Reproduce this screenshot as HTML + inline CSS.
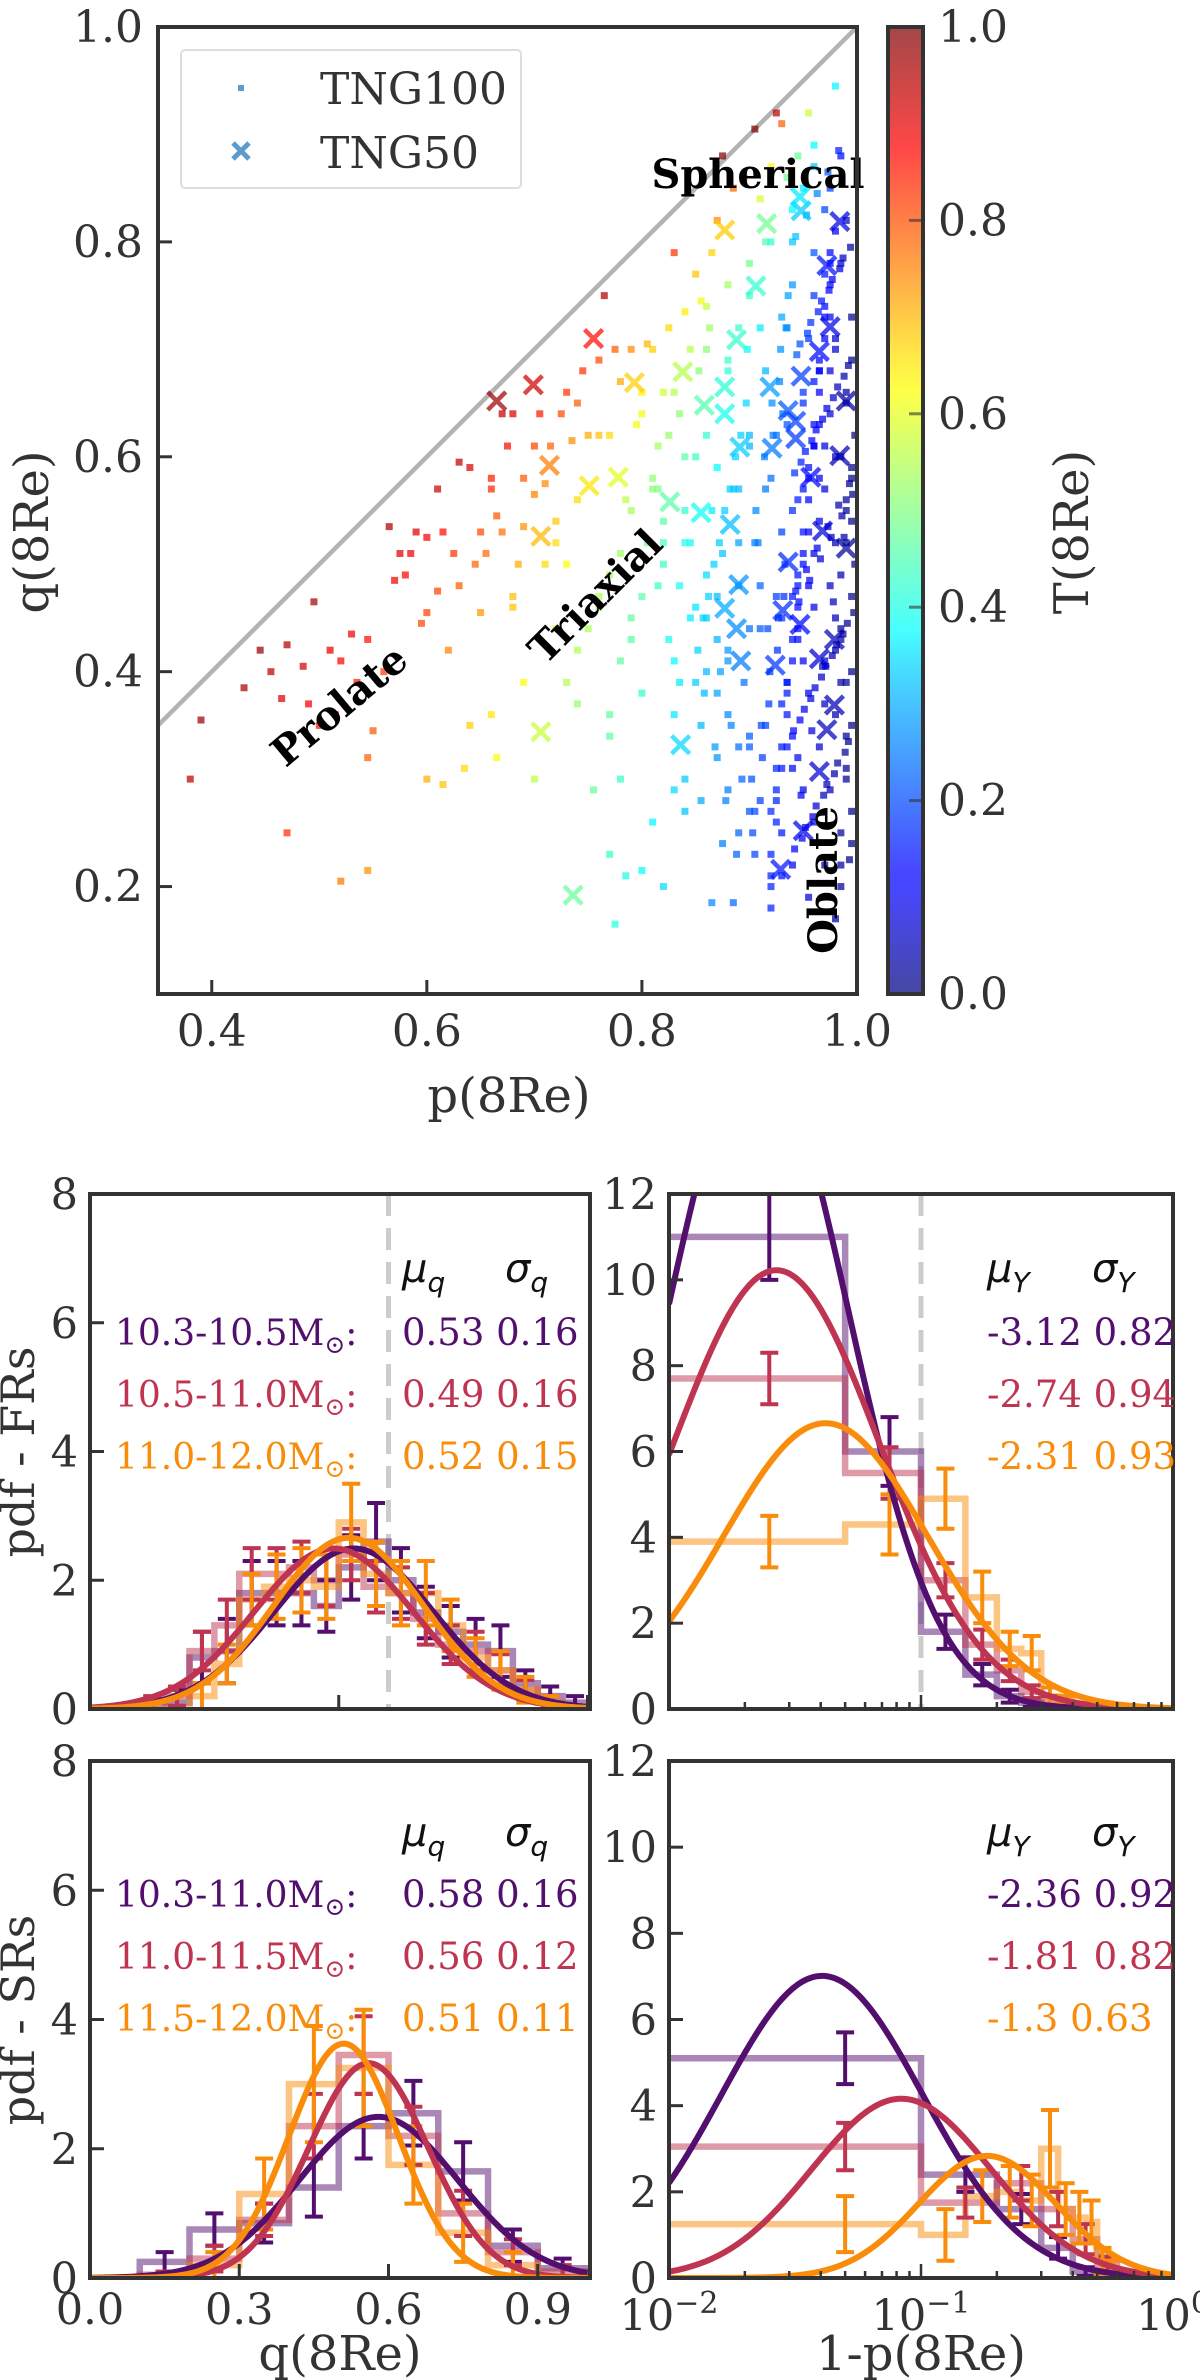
<!DOCTYPE html>
<html><head><meta charset="utf-8"><style>
html,body{margin:0;padding:0;background:#fff;}
svg{display:block;font-family:"DejaVu Serif","Liberation Serif",serif;}
</style></head><body>
<svg id="fig" width="1200" height="2380" viewBox="0 0 1200 2380" xmlns="http://www.w3.org/2000/svg">
<defs>
<clipPath id="cTop"><rect x="158" y="27" width="699" height="967"/></clipPath>
<clipPath id="cUL"><rect x="90" y="1194" width="500" height="515"/></clipPath>
<clipPath id="cUR"><rect x="669" y="1194" width="504" height="515"/></clipPath>
<clipPath id="cLL"><rect x="90" y="1761" width="500" height="517"/></clipPath>
<clipPath id="cLR"><rect x="669" y="1761" width="504" height="517"/></clipPath>
<linearGradient id="jetGrad" x1="0" y1="1" x2="0" y2="0">
<stop offset="0" stop-color="#000080"/><stop offset="0.11" stop-color="#0000ff"/><stop offset="0.125" stop-color="#0000ff"/>
<stop offset="0.34" stop-color="#00d4ff"/><stop offset="0.375" stop-color="#00ffff"/><stop offset="0.5" stop-color="#80ff80"/>
<stop offset="0.625" stop-color="#ffff00"/><stop offset="0.66" stop-color="#ffe000"/><stop offset="0.875" stop-color="#ff0000"/><stop offset="1" stop-color="#800000"/>
</linearGradient>
</defs>
<g id="top"></g>
<g id="bottom"></g>
</svg>
<script>
// ---------------- Top scatter data ----------------
const tng100P = [0.38,0.39,0.43,0.445,0.455,0.465,0.47,0.47,0.485,0.49,0.495,0.50,0.51,0.515,0.52,0.52,0.53,0.535,0.545,0.545,0.55,0.545,0.56,0.565,0.57,0.575,0.585,0.59,0.58,0.595,0.60,0.60,0.61,0.61,0.615,0.62,0.625,0.63,0.63,0.635,0.64,0.645,0.65,0.655,0.66,0.665,0.67,0.67,0.675,0.68,0.68,0.685,0.69,0.70,0.70,0.705,0.71,0.715,0.72,0.725,0.73,0.73,0.735,0.74,0.745,0.75,0.76,0.765,0.77,0.775,0.78,0.785,0.79,0.795,0.80,0.805,0.81,0.815,0.82,0.825,0.83,0.835,0.84,0.845,0.85,0.855,0.86,0.865,0.87,0.875,0.88,0.885,0.89,0.895,0.90,0.905,0.91,0.915,0.92,0.925,0.93,0.935,0.94,0.945,0.95,0.955,0.96,0.97,0.98,0.985,
0.60,0.615,0.64,0.66,0.665,0.69,0.70,0.72,0.73,0.74,0.755,0.77,0.77,0.775,0.78,0.785,0.79,0.80,0.80,0.81,0.815,0.82,0.825,0.83,0.835,0.84,0.84,0.845,0.85,0.855,0.855,0.86,0.865,0.865,0.87,0.87,0.875,0.875,0.88,0.88,0.885,0.885,0.89,0.89,0.895,0.90,0.90,0.905,0.905,0.91,0.91,0.915,0.915,0.92,0.92,0.925,0.925,0.93,0.93,0.93,0.935,0.935,0.94,0.94,0.94,0.945,0.945,0.95,0.95,0.95,0.955,0.955,0.955,0.96,0.96,0.96,0.96,0.965,0.965,0.965,0.97,0.97,0.97,0.97,0.975,0.975,0.975,0.975,0.98,0.98,0.98,0.98,0.985,0.985,0.985,0.985,0.99,0.99,0.99,0.99,0.99,0.995,0.995,0.995,0.995,0.995,0.998,0.998,
0.92,0.925,0.93,0.935,0.94,0.945,0.95,0.955,0.96,0.965,0.97,0.975,0.98,0.985,0.99,0.995,0.92,0.925,0.93,0.935,0.94,0.945,0.95,0.955,0.96,0.965,0.97,0.975,0.98,0.985,0.99,0.995,0.92,0.93,0.94,0.95,0.96,0.97,0.98,0.99,0.925,0.935,0.945,0.955,0.965,0.975,0.985,0.995,0.92,0.93,0.94,0.95,0.96,0.97,0.98,0.99,0.925,0.935,0.945,0.955,0.965,0.975,0.985,0.995,0.93,0.94,0.95,0.96,0.97,0.98,0.99,0.935,0.945,0.955,0.965,0.975,0.985,0.995,
0.88,0.89,0.90,0.91,0.86,0.87,0.88,0.89,0.90,0.85,0.86,0.87,0.89,0.90,0.91,0.84,0.86,0.88,0.90,0.82,0.83,0.85,0.87,0.80,0.81,0.83,0.84,0.79,0.76,0.78,0.75,0.77,0.74,0.72,0.71,0.69,0.68,0.66,0.65,0.76,0.80,0.82,0.86,0.88,0.90,0.92,0.94,0.96,
0.942,0.952,0.962,0.972,0.982,0.992,0.947,0.957,0.967,0.977,0.987,0.997,0.943,0.953,0.963,0.973,0.983,0.993,0.948,0.958,0.968,0.978,0.988,0.944,0.954,0.964,0.974,0.984,0.994,0.949,0.959,0.969,0.979,0.989,0.941,0.951,0.961,0.971,0.981,0.991,0.946,0.956,0.966,0.976,0.986,0.996,0.942,0.952,0.962,0.972,0.982,0.992,0.947,0.957,0.967,0.977,0.987,0.943,0.953,0.963,0.973,0.983,0.993,0.948,0.958,0.968,0.978,0.988,
0.905,0.912,0.918,0.926,0.932,0.908,0.915,0.922,0.928,0.934,0.902,0.911,0.919,0.927,0.933,0.906,0.914,0.921,0.929,0.936,0.903,0.917,0.931,
0.852,0.862,0.872,0.882,0.892,0.857,0.867,0.877,0.887,0.897,0.853,0.863,0.873,0.883,0.893,0.858,0.868,0.878,0.888,0.898,
0.805,0.815,0.825,0.835,0.845,0.81,0.82,0.83,0.84,0.79,0.77,0.78,0.76,0.74];
const tng100Q = [0.30,0.355,0.385,0.42,0.40,0.375,0.25,0.425,0.405,0.37,0.465,0.35,0.42,0.36,0.41,0.205,0.435,0.39,0.215,0.43,0.345,0.32,0.40,0.535,0.485,0.51,0.51,0.53,0.49,0.445,0.525,0.455,0.475,0.57,0.53,0.42,0.51,0.48,0.595,0.31,0.59,0.50,0.455,0.51,0.58,0.545,0.53,0.64,0.61,0.47,0.64,0.50,0.535,0.565,0.61,0.64,0.575,0.61,0.54,0.64,0.50,0.66,0.615,0.65,0.68,0.62,0.69,0.75,0.62,0.70,0.67,0.56,0.70,0.63,0.64,0.705,0.70,0.61,0.66,0.72,0.79,0.64,0.735,0.70,0.77,0.745,0.70,0.79,0.82,0.88,0.76,0.85,0.72,0.86,0.78,0.905,0.84,0.80,0.87,0.92,0.91,0.86,0.80,0.88,0.85,0.92,0.87,0.83,0.945,0.88,
0.30,0.295,0.35,0.36,0.32,0.39,0.30,0.44,0.39,0.42,0.29,0.23,0.34,0.165,0.30,0.21,0.45,0.38,0.215,0.26,0.48,0.20,0.43,0.36,0.39,0.30,0.27,0.52,0.46,0.28,0.35,0.40,0.55,0.185,0.32,0.43,0.24,0.51,0.36,0.29,0.185,0.57,0.25,0.48,0.39,0.33,0.61,0.23,0.52,0.44,0.28,0.68,0.35,0.20,0.58,0.47,0.31,0.25,0.53,0.73,0.39,0.63,0.22,0.34,0.76,0.44,0.56,0.29,0.66,0.50,0.19,0.38,0.71,0.26,0.46,0.61,0.79,0.33,0.54,0.68,0.22,0.41,0.57,0.74,0.29,0.48,0.64,0.85,0.17,0.36,0.52,0.70,0.25,0.44,0.60,0.78,0.31,0.39,0.55,0.66,0.82,0.27,0.47,0.58,0.73,0.35,0.50,0.62,
0.21,0.26,0.31,0.36,0.41,0.46,0.51,0.56,0.61,0.66,0.71,0.76,0.81,0.20,0.30,0.40,0.23,0.28,0.33,0.38,0.43,0.48,0.53,0.58,0.63,0.68,0.73,0.78,0.60,0.43,0.34,0.24,0.27,0.37,0.47,0.57,0.67,0.77,0.45,0.65,0.29,0.39,0.49,0.59,0.69,0.79,0.39,0.54,0.18,0.45,0.55,0.65,0.75,0.37,0.42,0.52,0.62,0.72,0.32,0.48,0.58,0.68,0.49,0.59,0.21,0.31,0.41,0.51,0.61,0.71,0.56,0.33,0.43,0.53,0.63,0.73,0.22,0.69,
0.42,0.52,0.62,0.72,0.49,0.59,0.69,0.33,0.44,0.39,0.62,0.47,0.57,0.27,0.48,0.55,0.45,0.41,0.34,0.50,0.29,0.60,0.38,0.47,0.57,0.41,0.52,0.55,0.47,0.51,0.44,0.36,0.56,0.52,0.50,0.58,0.46,0.57,0.53,0.62,0.66,0.52,0.74,0.68,0.75,0.80,0.83,0.89,
0.235,0.255,0.275,0.295,0.315,0.335,0.355,0.375,0.395,0.415,0.435,0.455,0.475,0.495,0.515,0.535,0.555,0.575,0.595,0.615,0.635,0.655,0.675,0.695,0.715,0.735,0.755,0.775,0.795,0.245,0.265,0.285,0.305,0.325,0.345,0.365,0.385,0.405,0.425,0.445,0.465,0.485,0.505,0.525,0.545,0.565,0.585,0.605,0.625,0.645,0.665,0.685,0.705,0.725,0.745,0.765,0.785,0.805,0.825,0.845,0.865,0.885,0.225,0.285,0.345,0.405,0.465,0.525,
0.27,0.32,0.37,0.42,0.47,0.52,0.57,0.62,0.67,0.72,0.30,0.35,0.40,0.45,0.50,0.55,0.60,0.65,0.70,0.75,0.25,0.44,0.64,
0.42,0.47,0.52,0.57,0.62,0.45,0.50,0.55,0.60,0.65,0.68,0.72,0.40,0.35,0.30,0.38,0.33,0.28,0.23,0.70,
0.52,0.57,0.62,0.48,0.45,0.58,0.54,0.66,0.60,0.43,0.49,0.41,0.46,0.37];
const tng50P = [0.665,0.699,0.755,0.714,0.706,0.751,0.778,0.793,0.838,0.877,0.916,0.948,0.947,0.984,0.972,0.906,0.888,0.877,0.858,0.877,0.919,0.948,0.936,0.965,0.975,0.990,0.891,0.921,0.943,0.957,0.984,0.826,0.855,0.882,0.968,0.990,0.936,0.890,0.877,0.888,0.931,0.947,0.892,0.924,0.965,0.979,0.979,0.972,0.965,0.950,0.929,0.836,0.706,0.736,0.943];
const tng50Q = [0.652,0.667,0.710,0.592,0.526,0.573,0.581,0.669,0.679,0.811,0.817,0.829,0.842,0.819,0.778,0.759,0.709,0.665,0.648,0.640,0.665,0.675,0.643,0.698,0.721,0.652,0.609,0.608,0.617,0.581,0.601,0.558,0.548,0.537,0.531,0.515,0.502,0.481,0.459,0.440,0.457,0.444,0.410,0.406,0.412,0.430,0.369,0.346,0.307,0.252,0.216,0.332,0.344,0.192,0.633];
const cbTicks = [0.0,0.2,0.4,0.6,0.8,1.0];
const pTicks = [0.4,0.6,0.8,1.0];
const qTicks = [0.2,0.4,0.6,0.8,1.0];

// ---------------- Bottom panel data ----------------
const massLabelsFR = ["10.3-10.5M","10.5-11.0M","11.0-12.0M"];
const massLabelsSR = ["10.3-11.0M","11.0-11.5M","11.5-12.0M"];
const muQFR = [0.53,0.49,0.52], sigQFR = [0.16,0.16,0.15];
const muQSR = [0.58,0.56,0.51], sigQSR = [0.16,0.12,0.11];
const muYFR = [-3.12,-2.74,-2.31], sigYFR = [0.82,0.94,0.93];
const muYSR = [-2.36,-1.81,-1.3], sigYSR = [0.92,0.82,0.63];
const colors = ["#530f6d","#bf3551","#f98c0a"];

const qEdgesFR = [0.1,0.15,0.2,0.25,0.3,0.35,0.4,0.45,0.5,0.55,0.6,0.65,0.7,0.75,0.8,0.85,0.9,0.95,1.0];
const qHistFR0 = [0.0,0.1,0.8,0.9,1.8,1.8,1.8,1.6,2.2,2.6,2.0,1.5,1.2,1.0,0.9,0.4,0.2,0.1];
const qErrFR0  = [0.0,0.2,0.4,0.5,0.5,0.5,0.5,0.4,0.5,0.6,0.5,0.4,0.4,0.4,0.4,0.2,0.15,0.1];
const qHistFR1 = [0.1,0.2,0.9,1.3,2.1,2.1,2.2,2.0,2.4,1.9,1.8,1.4,1.0,0.9,0.6,0.3,0.1,0.0];
const qErrFR1  = [0.1,0.15,0.3,0.4,0.4,0.4,0.4,0.4,0.4,0.4,0.4,0.4,0.3,0.3,0.25,0.15,0.1,0.0];
const qHistFR2 = [0.0,0.0,0.2,0.7,1.7,1.9,2.0,1.9,2.9,2.1,1.8,1.8,1.3,0.8,0.6,0.3,0.1,0.0];
const qErrFR2  = [0.0,0.0,0.2,0.3,0.4,0.5,0.5,0.5,0.6,0.5,0.5,0.5,0.4,0.3,0.3,0.2,0.1,0.0];

const yEdgesFR = [0,0.05,0.1,0.15,0.2,0.25,0.3,0.35,0.4,0.45,0.5];
const yHistFR0 = [11.0,6.0,1.8,0.8,0.3,0.15,0.05,0.02,0.0,0.0];
const yErrFR0  = [1.0,0.8,0.4,0.25,0.15,0.1,0.0,0.0,0.0,0.0];
const yHistFR1 = [7.7,5.5,3.0,1.5,0.9,0.4,0.2,0.1,0.05,0.0];
const yErrFR1  = [0.6,0.6,0.4,0.35,0.25,0.15,0.1,0.0,0.0,0.0];
const yHistFR2 = [3.9,4.3,4.9,2.6,1.4,1.3,0.3,0.2,0.1,0.05];
const yErrFR2  = [0.6,0.7,0.7,0.6,0.4,0.4,0.2,0.1,0.0,0.0];

const qEdgesSR = [0.1,0.2,0.3,0.4,0.5,0.6,0.7,0.8,0.9,1.0];
const qHistSR0 = [0.25,0.75,0.85,1.4,2.35,2.55,1.65,0.5,0.15];
const qErrSR0  = [0.15,0.25,0.3,0.45,0.5,0.5,0.45,0.25,0.15];
const qHistSR1 = [0.05,0.3,0.9,2.35,3.45,2.2,1.0,0.4,0.1];
const qErrSR1  = [0.05,0.2,0.25,0.5,0.6,0.45,0.35,0.2,0.1];
const qHistSR2 = [0.0,0.2,1.3,3.0,3.25,1.75,0.7,0.2,0.0];
const qErrSR2  = [0.0,0.2,0.55,0.9,0.9,0.6,0.45,0.2,0.0];

const yEdgesSR0 = [0,0.1,0.2,0.3,0.4,0.5];
const yHistSR0 = [5.1,2.4,1.6,0.7,0.15];
const yErrSR0  = [0.6,0.4,0.35,0.25,0.1];
const yEdgesSR1 = [0,0.1,0.2,0.3,0.4,0.5,0.6];
const yHistSR1 = [3.05,1.75,2.2,1.6,0.9,0.3];
const yErrSR1  = [0.55,0.35,0.4,0.4,0.35,0.2];
const yEdgesSR2 = [0,0.1,0.15,0.2,0.25,0.3,0.35,0.4,0.45,0.5,0.55,0.6,0.7];
const yHistSR2 = [1.25,1.0,1.9,2.0,1.8,3.0,1.6,1.4,1.3,0.4,0.2,0.05];
const yErrSR2  = [0.65,0.6,0.6,0.6,0.6,0.9,0.6,0.6,0.5,0.3,0.2,0.0];

const yTicksQ = [0,2,4,6,8];
const yTicksY = [0,2,4,6,8,10,12];
const xTicksQ = [0.0,0.3,0.6,0.9];

// ---------------- helpers ----------------
const NS = "http://www.w3.org/2000/svg";
function mk(tag, attrs, parent) {
  const e = document.createElementNS(NS, tag);
  for (const k in attrs) e.setAttribute(k, attrs[k]);
  parent.appendChild(e);
  return e;
}
function clamp(v){return Math.max(0,Math.min(1,v));}
function jet(t){
  const r=clamp(1.5-Math.abs(4*t-3)), g=clamp(1.5-Math.abs(4*t-2)), b=clamp(1.5-Math.abs(4*t-1));
  return "rgb("+Math.round(r*255)+","+Math.round(g*255)+","+Math.round(b*255)+")";
}
function triax(p,q){ return (1-p*p)/Math.max(1e-6,(1-q*q)); }

const topG = document.getElementById("top");
const xs = p => 158 + (p-0.35)/0.65*699;
const ys = q => 994 - (q-0.1)/0.9*967;
const AX = "#333333";

let diag = mk("line",{x1:xs(0.35),y1:ys(0.35),x2:xs(1.0),y2:ys(1.0),stroke:"#b3b3b3","stroke-width":4.5,"clip-path":"url(#cTop)"},topG);



const ptsG = mk("g",{"clip-path":"url(#cTop)"},topG);


for (let i=0;i<tng100P.length;i++){
  const p=tng100P[i], q=tng100Q[i];
  const t=Math.min(1,triax(p,q));
  const r = mk("rect",{x:xs(p)-3.5,y:ys(q)-3.5,width:7,height:7,fill:jet(t),"fill-opacity":0.72},ptsG);
  
  
}
const xG = mk("g",{"clip-path":"url(#cTop)"},topG);


for (let i=0;i<tng50P.length;i++){
  const p=tng50P[i], q=tng50Q[i];
  const t=Math.min(1,triax(p,q));
  const cx=xs(p), cy=ys(q), s=9;
  const m = mk("path",{d:`M${cx-s},${cy-s}L${cx+s},${cy+s}M${cx-s},${cy+s}L${cx+s},${cy-s}`,stroke:jet(t),"stroke-opacity":0.72,"stroke-width":4.5,fill:"none"},xG);
  
  
}
function txt(parent, x, y, s, attrs, name){
  const t = mk("text", Object.assign({x:x,y:y},attrs), parent);
  t.textContent = s;
  
  
  return t;
}
txt(topG,758,188,"Spherical",{"font-size":40,"font-weight":"bold","text-anchor":"middle",fill:"#000"},"spherical-label");
txt(topG,0,0,"Triaxial",{"font-size":40,"font-weight":"bold","text-anchor":"middle",fill:"#000",transform:"translate(605,606) rotate(-45)"},"triaxial-label");
txt(topG,0,0,"Prolate",{"font-size":40,"font-weight":"bold","text-anchor":"middle",fill:"#000",transform:"translate(348,716) rotate(-40)"},"prolate-label");
txt(topG,0,0,"Oblate",{"font-size":40,"font-weight":"bold","text-anchor":"middle",fill:"#000",transform:"translate(837,880) rotate(-90)"},"oblate-label");

let fr = mk("rect",{x:158,y:27,width:699,height:967,fill:"none",stroke:AX,"stroke-width":4},topG);


for (const v of pTicks){
  const x=xs(v);
  if (v<1) mk("line",{x1:x,y1:994,x2:x,y2:980,stroke:AX,"stroke-width":3},topG);
  txt(topG,x,1046,v.toFixed(1),{"font-size":44,"text-anchor":"middle",fill:AX},"x-tick-label");
}
for (const v of qTicks){
  const y=ys(v);
  if (v<1) mk("line",{x1:158,y1:y,x2:172,y2:y,stroke:AX,"stroke-width":3},topG);
  txt(topG,143,y+15,v.toFixed(1),{"font-size":44,"text-anchor":"end",fill:AX},"y-tick-label");
}
txt(topG,509,1112,"p(8Re)",{"font-size":48,"text-anchor":"middle",fill:AX},"x-axis-title");
txt(topG,0,0,"q(8Re)",{"font-size":48,"text-anchor":"middle",fill:AX,transform:"translate(48,532) rotate(-90)"},"y-axis-title");

const lg = mk("g",{},topG);


mk("rect",{x:181,y:50,width:340,height:138,rx:4,fill:"#fff","fill-opacity":0.85,stroke:"#dddddd","stroke-width":2},lg);
mk("rect",{x:238,y:85,width:6,height:6,fill:"#5b9ccc"},lg);
mk("path",{d:"M233,143L249,159M233,159L249,143",stroke:"#5b9ccc","stroke-width":5},lg);
txt(lg,320,104,"TNG100",{"font-size":44,fill:AX},"legend-entry-tng100");
txt(lg,320,168,"TNG50",{"font-size":44,fill:AX},"legend-entry-tng50");

const cb = mk("g",{},topG);


mk("rect",{x:888,y:27,width:35,height:967,fill:"url(#jetGrad)","fill-opacity":0.72},cb);
mk("rect",{x:888,y:27,width:35,height:967,fill:"none",stroke:AX,"stroke-width":4},cb);
for (const v of cbTicks){
  const y = 994 - v*967;
  if (v>0 && v<1) mk("line",{x1:909,y1:y,x2:923,y2:y,stroke:"#333","stroke-opacity":0.6,"stroke-width":3},cb);
  txt(cb,938,y+15,v.toFixed(1),{"font-size":44,fill:AX},"colorbar-tick-label");
}
txt(cb,0,0,"T(8Re)",{"font-size":48,"text-anchor":"middle",fill:AX,transform:"translate(1088,532) rotate(-90)"},"colorbar-title");

// ---------------- bottom panels ----------------
const botG = document.getElementById("bottom");
function panel(name, x0,x1,y0,y1, xfun, ymax, clip){
  const g = mk("g",{},botG);
  
  
  return {g, x0,x1,y0,y1, xs:xfun, ys: v => y1 - v/ymax*(y1-y0), clip};
}
const linX = (x0,x1,lo,hi) => v => x0 + (v-lo)/(hi-lo)*(x1-x0);
const logX = (x0,x1) => v => x0 + (Math.log10(Math.max(v,1e-4))+2)/2*(x1-x0);

const UL = panel("fr-q-panel",90,590,1194,1709, linX(90,590,0,1.005), 8, "cUL");
const UR = panel("fr-y-panel",669,1173,1194,1709, logX(669,1173), 12, "cUR");
const LL = panel("sr-q-panel",90,590,1761,2278, linX(90,590,0,1.005), 8, "cLL");
const LR = panel("sr-y-panel",669,1173,1761,2278, logX(669,1173), 12, "cLR");

function hist(P, edges, vals, col, name){
  let d = `M${P.xs(Math.max(edges[0],0.005))},${P.ys(0)}`;
  for (let i=0;i<vals.length;i++){
    const xa = P.xs(Math.max(edges[i],0.005)), xb = P.xs(edges[i+1]), y = P.ys(vals[i]);
    d += `L${xa},${y}L${xb},${y}`;
  }
  d += `L${P.xs(edges[vals.length])},${P.ys(0)}`;
  const h = mk("path",{d, fill:"none", stroke:col, "stroke-opacity":0.5, "stroke-width":6.5, "clip-path":`url(#${P.clip})`}, P.g);
  
  
}
function errs(P, edges, vals, es, col, name){
  const g = mk("g",{"clip-path":`url(#${P.clip})`}, P.g);
  
  
  for (let i=0;i<vals.length;i++){
    if (es[i] <= 0) continue;
    const c = (edges[i]+edges[i+1])/2;
    const x = P.xs(c), ya = P.ys(vals[i]-es[i]), yb = P.ys(vals[i]+es[i]);
    mk("path",{d:`M${x},${ya}L${x},${yb}M${x-9},${ya}L${x+9},${ya}M${x-9},${yb}L${x+9},${yb}`, stroke:col, "stroke-width":4, fill:"none"}, g);
  }
}
function gaussCurve(P, mu, sig, col, name){
  let d="";
  for (let i=0;i<=300;i++){
    const x = i/300*1.0;
    const v = Math.exp(-0.5*((x-mu)/sig)**2)/(sig*Math.sqrt(2*Math.PI));
    d += (i?"L":"M")+P.xs(x).toFixed(2)+","+P.ys(v).toFixed(2);
  }
  const c = mk("path",{d, fill:"none", stroke:col, "stroke-width":6, "clip-path":`url(#${P.clip})`}, P.g);
  
  
}
function lognCurve(P, mu, sig, col, name){
  let d="";
  for (let i=0;i<=300;i++){
    const lx = -2 + i/300*2, x = Math.pow(10,lx);
    const v = Math.exp(-0.5*((Math.log(x)-mu)/sig)**2)/(x*sig*Math.sqrt(2*Math.PI));
    d += (i?"L":"M")+P.xs(x).toFixed(2)+","+Math.max(P.y0-20,P.ys(v)).toFixed(2);
  }
  const c = mk("path",{d, fill:"none", stroke:col, "stroke-width":6, "clip-path":`url(#${P.clip})`}, P.g);
  
  
}
function frame(P, yticks, xticks, xlabels, log){
  const f = mk("rect",{x:P.x0,y:P.y0,width:P.x1-P.x0,height:P.y1-P.y0,fill:"none",stroke:AX,"stroke-width":4},P.g);
  
  
  for (const v of yticks){
    const y = P.ys(v);
    if (v>0 && y>P.y0+3) mk("line",{x1:P.x0,y1:y,x2:P.x0+14,y2:y,stroke:AX,"stroke-width":3},P.g);
    txt(P.g,P.x0-12,y+15,String(v),{"font-size":43,"text-anchor":"end",fill:AX},"y-tick-label");
  }
  if (log){
    for (let dec=-2; dec<0; dec++){
      for (let k=1;k<=9;k++){
        const x = P.xs(k*Math.pow(10,dec));
        const len = k===1?14:7;
        if (x>P.x0+2) mk("line",{x1:x,y1:P.y1,x2:x,y2:P.y1-len,stroke:AX,"stroke-width":2.5},P.g);
      }
    }
    if (xlabels){
      const lab=[["10","−2",0.01],["10","−1",0.1],["10","0",1]];
      for (const L of lab){
        const t = mk("text",{x:P.xs(L[2]),y:P.y1+52,"font-size":43,"text-anchor":"middle",fill:AX},P.g);
        
        
        const a = mk("tspan",{},t); a.textContent=L[0];
        const b = mk("tspan",{"font-size":30,dy:-17},t); b.textContent=L[1];
      }
    }
  } else {
    for (const v of xticks){
      const x = P.xs(v);
      if (v>0) mk("line",{x1:x,y1:P.y1,x2:x,y2:P.y1-14,stroke:AX,"stroke-width":3},P.g);
      if (xlabels) txt(P.g,x,P.y1+46,v.toFixed(1),{"font-size":43,"text-anchor":"middle",fill:AX},"x-tick-label");
    }
  }
}
function sym(P,x,y,a,b){
  const t = mk("text",{x,y,"font-size":40,fill:"#111","font-style":"italic","font-family":"DejaVu Sans, sans-serif"},P.g);
  
  
  const s1=mk("tspan",{},t); s1.textContent=a;
  const s2=mk("tspan",{"font-size":28,dy:10},t); s2.textContent=b;
}
function legendRows(P, labels, mus, sigs, yStart, xLab, xVal, fmt){
  for (let i=0;i<3;i++){
    const y = yStart + i*62;
    if (labels){
      const t = mk("text",{x:xLab,y,"font-size":36,fill:colors[i]},P.g);
      
      
      const s1=mk("tspan",{},t); s1.textContent=labels[i];
      const s2=mk("tspan",{"font-size":25,dy:8},t); s2.textContent="⊙";
      const s3=mk("tspan",{dy:-8},t); s3.textContent=":";
    }
    txt(P.g,xVal,y,fmt(mus[i])+" "+sigs[i].toFixed(2),{"font-size":37,fill:colors[i]},"fit-parameters");
  }
}

let dl = mk("line",{x1:UL.xs(0.6),y1:UL.y0,x2:UL.xs(0.6),y2:UL.y1,stroke:"#cccccc","stroke-width":5,"stroke-dasharray":"22,12"},UL.g);
 
let dr = mk("line",{x1:UR.xs(0.1),y1:UR.y0,x2:UR.xs(0.1),y2:UR.y1,stroke:"#cccccc","stroke-width":5,"stroke-dasharray":"22,12"},UR.g);
 

const qHFR=[qHistFR0,qHistFR1,qHistFR2], qEFR=[qErrFR0,qErrFR1,qErrFR2];
const yHFR=[yHistFR0,yHistFR1,yHistFR2], yEFR=[yErrFR0,yErrFR1,yErrFR2];
const qHSR=[qHistSR0,qHistSR1,qHistSR2], qESR=[qErrSR0,qErrSR1,qErrSR2];
const yHSR=[yHistSR0,yHistSR1,yHistSR2], yESR=[yErrSR0,yErrSR1,yErrSR2], yEdSR=[yEdgesSR0,yEdgesSR1,yEdgesSR2];
for (let i=0;i<3;i++){
  hist(UL,qEdgesFR,qHFR[i],colors[i],"fr-q-hist");
  hist(UR,yEdgesFR,yHFR[i],colors[i],"fr-y-hist");
  hist(LL,qEdgesSR,qHSR[i],colors[i],"sr-q-hist");
  hist(LR,yEdSR[i],yHSR[i],colors[i],"sr-y-hist");
}
for (let i=0;i<3;i++){
  errs(UL,qEdgesFR,qHFR[i],qEFR[i],colors[i],"fr-q-errorbars");
  errs(UR,yEdgesFR,yHFR[i],yEFR[i],colors[i],"fr-y-errorbars");
  errs(LL,qEdgesSR,qHSR[i],qESR[i],colors[i],"sr-q-errorbars");
  errs(LR,yEdSR[i],yHSR[i],yESR[i],colors[i],"sr-y-errorbars");
}
for (let i=0;i<3;i++){
  gaussCurve(UL,muQFR[i],sigQFR[i],colors[i],"fr-q-fit");
  lognCurve(UR,muYFR[i],sigYFR[i],colors[i],"fr-y-fit");
  gaussCurve(LL,muQSR[i],sigQSR[i],colors[i],"sr-q-fit");
  lognCurve(LR,muYSR[i],sigYSR[i],colors[i],"sr-y-fit");
}
frame(UL,yTicksQ,[0.5,1.0],false,false);
frame(UR,yTicksY,null,false,true);
frame(LL,yTicksQ,xTicksQ,true,false);
frame(LR,yTicksY,null,true,true);

sym(UL,402,1282,"μ","q"); sym(UL,505,1282,"σ","q");
sym(LL,402,1846,"μ","q"); sym(LL,505,1846,"σ","q");
sym(UR,987,1282,"μ","Y"); sym(UR,1092,1282,"σ","Y");
sym(LR,987,1846,"μ","Y"); sym(LR,1092,1846,"σ","Y");
legendRows(UL,massLabelsFR,muQFR,sigQFR,1345,115,402,v=>v.toFixed(2));
legendRows(LL,massLabelsSR,muQSR,sigQSR,1907,115,402,v=>v.toFixed(2));
legendRows(UR,null,muYFR,sigYFR,1345,0,987,v=>String(v));
legendRows(LR,null,muYSR,sigYSR,1907,0,987,v=>String(v));

txt(botG,0,0,"pdf - FRs",{"font-size":46,"text-anchor":"middle",fill:AX,transform:"translate(34,1452) rotate(-90)"},"fr-y-axis-title");
txt(botG,0,0,"pdf - SRs",{"font-size":46,"text-anchor":"middle",fill:AX,transform:"translate(34,2020) rotate(-90)"},"sr-y-axis-title");
txt(botG,340,2370,"q(8Re)",{"font-size":48,"text-anchor":"middle",fill:AX},"q-x-axis-title");
txt(botG,921,2370,"1-p(8Re)",{"font-size":48,"text-anchor":"middle",fill:AX},"y-x-axis-title");
</script>
</body></html>
